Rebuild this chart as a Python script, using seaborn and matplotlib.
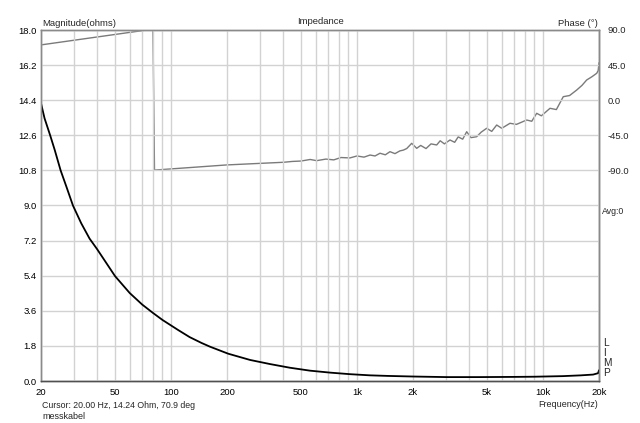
import matplotlib
matplotlib.use("Agg")
import matplotlib.pyplot as plt
import seaborn as sns
import pandas as pd
from matplotlib.ticker import FixedLocator, NullFormatter, NullLocator

# ---- data ----
mag_freq = [20, 20.9, 22.4, 23.7, 25.5, 27.4, 29.7, 32.9, 36.5, 40, 50, 60, 70, 80, 90,
            100, 109, 126, 146,
            162, 203, 266, 340, 436, 559, 716, 916, 1175, 1472, 2000, 3035, 4500,
            6900, 9000, 12800, 16000, 18600, 19770, 20000]
mag_ohm = [14.24, 13.47, 12.6, 11.85, 10.8, 9.96, 9.0, 8.09, 7.3, 6.77, 5.38, 4.51, 3.92, 3.49,
           3.13, 2.85, 2.62, 2.25, 1.95,
           1.76, 1.40, 1.08, 0.87, 0.68, 0.53, 0.43, 0.35, 0.29, 0.26, 0.23, 0.20, 0.20,
           0.21, 0.22, 0.25, 0.29, 0.33, 0.40, 0.55]

ph_freq = [20, 74, 80, 81.5, 82.7, 199, 300, 402, 450, 500, 560, 607, 680, 750, 820, 916,
           1000, 1090, 1175, 1250, 1329, 1420, 1504, 1600, 1700, 1774, 1850, 1968, 2094,
           2200, 2350, 2500, 2682, 2800, 2950, 3162, 3350, 3500, 3700, 3888, 4100, 4400,
           4650, 4978, 5300, 5636, 6000, 6645, 7200, 8171, 8700, 9248, 9800, 10904, 11800,
           12850, 13900, 15170, 16200, 17170, 18300, 19440, 19800, 20000]
ph_deg = [70.9, 90, 90, -89.5, -89.5, -83, -81, -79.6, -78.5, -78, -76, -77.5, -75.5, -76.5,
          -73.5, -74, -71.5, -73, -70.3, -71.5, -68, -70, -66, -68.5, -65, -64, -62, -55.3,
          -61.7, -58, -62, -56, -57.4, -52, -56, -51, -54, -47, -50, -40.4, -48, -46.8,
          -41, -36, -40, -31.8, -36, -29.6, -31, -25.4, -27, -16.8, -20, -10.4, -12,
          4.5, 6, 13, 19, 25.9, 30, 34.5, 38, 48]

x_ticks = [20, 50, 100, 200, 500, 1000, 2000, 5000, 10000, 20000]
x_labels = ["20", "50", "100", "200", "500", "1k", "2k", "5k", "10k", "20k"]
grid_freqs = [20, 30, 40, 50, 60, 70, 80, 90, 100, 200, 300, 400, 500, 600, 700, 800, 900,
              1000, 2000, 3000, 4000, 5000, 6000, 7000, 8000, 9000, 10000, 20000]
mag_ticks = [0.0, 1.8, 3.6, 5.4, 7.2, 9.0, 10.8, 12.6, 14.4, 16.2, 18.0]
ph_ticks = [-90, -45, 0, 45, 90]

mag_df = pd.DataFrame({"f": mag_freq, "z": mag_ohm})
ph_df = pd.DataFrame({"f": ph_freq, "p": ph_deg})

sns.set_style("white")
plt.rcParams["font.family"] = ["Liberation Sans", "DejaVu Sans"]
fs = 6.8

fig = plt.figure(figsize=(6.4, 4.23), dpi=100)
ax = fig.add_axes([41 / 640, 1 - 381 / 423, 558 / 640, 351 / 423])
ax.set_xscale("log")
ax.set_xlim(20, 20000)
ax.set_ylim(0, 18)

for gf in grid_freqs:
    ax.axvline(gf, color="#d2d2d2", lw=1.0, zorder=0)
for gy in mag_ticks:
    ax.axhline(gy, color="#d2d2d2", lw=1.0, zorder=0)

ax2 = ax.twinx()
ax2.set_ylim(-360, 90)
sns.lineplot(data=ph_df, x="f", y="p", ax=ax2, color="#7a7a7a", lw=1.0,
             estimator=None, sort=False)
sns.lineplot(data=mag_df, x="f", y="z", ax=ax, color="#000000", lw=1.3,
             estimator=None, sort=False)
ax.set_zorder(ax2.get_zorder() + 1)
ax.patch.set_visible(False)

ax.xaxis.set_major_locator(FixedLocator(x_ticks))
ax.set_xticklabels(x_labels)
ax.xaxis.set_minor_locator(NullLocator())
ax.xaxis.set_minor_formatter(NullFormatter())
ax.set_yticks(mag_ticks)
ax.set_yticklabels([f"{v:.1f}" for v in mag_ticks])
ax2.set_yticks(ph_ticks)
ax2.set_yticklabels([f"{v:.1f}" for v in ph_ticks])
ax.set_xlabel("")
ax.set_ylabel("")
ax2.set_ylabel("")
ax2.set_xlabel("")

ax.tick_params(axis="both", length=0, labelsize=fs, colors="#000000")
ax.tick_params(axis="x", pad=5)
ax.tick_params(axis="y", pad=3)
ax2.tick_params(axis="y", length=0, labelsize=fs, pad=6)
for a in (ax, ax2):
    for s in a.spines.values():
        s.set_color("#8a8a8a")
        s.set_linewidth(1.0)
ax.spines["bottom"].set_color("#505050")
ax2.spines["bottom"].set_color("#505050")
ax2.spines["right"].set_color("#505050")

fig.text(42 / 640, 1 - 23 / 423, "Magnitude(ohms)", fontsize=fs, ha="left", va="center")
fig.text(320 / 640, 1 - 22 / 423, "Impedance", fontsize=fs, ha="center", va="center")
fig.text(598 / 640, 1 - 23 / 423, "Phase (\u00b0)", fontsize=fs, ha="right", va="center")
fig.text(602 / 640, 1 - 211 / 423, "Avg:0", fontsize=fs - 0.5, ha="left", va="center")
for i, ch in enumerate("LIMP"):
    fig.text(603 / 640, 1 - (343 + 10 * i) / 423, ch, fontsize=fs + 0.5, ha="left", va="center")
fig.text(42 / 640, 1 - 405 / 423, "Cursor: 20.00 Hz, 14.24 Ohm, 70.9 deg", fontsize=6.3,
         ha="left", va="center")
fig.text(42 / 640, 1 - 416 / 423, "messkabel", fontsize=6.5, ha="left", va="center")
fig.text(598 / 640, 1 - 404 / 423, "Frequency(Hz)", fontsize=6.5, ha="right", va="center")

fig.savefig("out.png", dpi=100, facecolor="white")
